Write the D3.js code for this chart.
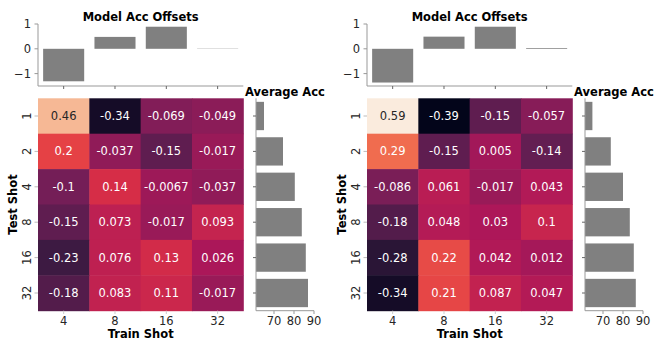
<!DOCTYPE html>
<html>
<head>
<meta charset="utf-8">
<script src="https://cdn.jsdelivr.net/npm/d3@7"></script>
<style>
  body { margin: 0; background: #fff; }
  svg { display: block; font-family: "DejaVu Sans", sans-serif; }
</style>
</head>
<body>
<svg id="chart" width="664" height="352"></svg>
<script>
// axis categories
const trainShots = ["4", "8", "16", "32"];
const testShots = ["1", "2", "4", "8", "16", "32"];

// left panel
const heatLeft = [
    [0.46, -0.34, -0.069, -0.049],
    [0.2, -0.037, -0.15, -0.017],
    [-0.1, 0.14, -0.0067, -0.037],
    [-0.15, 0.073, -0.017, 0.093],
    [-0.23, 0.076, 0.13, 0.026],
    [-0.18, 0.083, 0.11, -0.017]
];
const offsetsLeft = [-1.31, 0.48, 0.89, 0.01];
const avgLeft = [65, 74.5, 80.4, 83.9, 85.9, 87.0];

// right panel
const heatRight = [
    [0.59, -0.39, -0.15, -0.057],
    [0.29, -0.15, 0.005, -0.14],
    [-0.086, 0.061, -0.017, 0.043],
    [-0.18, 0.048, 0.03, 0.1],
    [-0.28, 0.22, 0.042, 0.012],
    [-0.34, 0.21, 0.087, 0.047]
];
const offsetsRight = [-1.36, 0.49, 0.89, 0.03];
const avgRight = [64.7, 73.9, 80, 83.4, 85.4, 86.4];

const offsetTicks = [1, 0, -1];
const avgTicks = [70, 80, 90];

// seaborn "rocket" approximated by its palette anchors
const rocketStops = ["#03051a", "#35193e", "#701f57", "#ad1759", "#e13342", "#f37651", "#f6b48f", "#faebdd"];
const rocket = d3.scaleLinear()
    .domain(d3.range(rocketStops.length).map(i => i / (rocketStops.length - 1)))
    .range(rocketStops)
    .interpolate(d3.interpolateRgb);

const allVals = heatLeft.flat().concat(heatRight.flat());
const colorNorm = d3.scaleLinear().domain(d3.extent(allVals)).range([0, 1]).clamp(true);
const cellColor = v => rocket(colorNorm(v));

function luminance(c) {
    const rgb = d3.rgb(c);
    const lin = x => {
        x /= 255;
        return x <= 0.03928 ? x / 12.92 : Math.pow((x + 0.055) / 1.055, 2.4);
    };
    return 0.2126 * lin(rgb.r) + 0.7152 * lin(rgb.g) + 0.0722 * lin(rgb.b);
}

const svg = d3.select("#chart");
const FS = "11.5px";
const spine = "#999";
const barGrey = "#808080";

function drawPanel(dx, heat, offsets, avg) {
    const g = svg.append("g").attr("transform", `translate(${dx},0)`);

    const x = d3.scaleBand().domain(trainShots).range([38, 243.3]);
    const y = d3.scaleBand().domain(testShots).range([98.3, 310.7]);

    // heatmap cells
    const cells = [];
    heat.forEach((row, i) => row.forEach((v, j) => cells.push({ r: testShots[i], c: trainShots[j], v })));

    g.append("g").selectAll("rect")
        .data(cells)
        .enter().append("rect")
        .attr("x", d => x(d.c))
        .attr("y", d => y(d.r))
        .attr("width", x.bandwidth() + 0.5)
        .attr("height", y.bandwidth() + 0.5)
        .attr("fill", d => cellColor(d.v));

    g.append("g").selectAll("text")
        .data(cells)
        .enter().append("text")
        .attr("x", d => x(d.c) + x.bandwidth() / 2)
        .attr("y", d => y(d.r) + y.bandwidth() / 2)
        .attr("text-anchor", "middle")
        .attr("dominant-baseline", "central")
        .style("font-size", FS)
        .attr("fill", d => luminance(cellColor(d.v)) > 0.408 ? "#262626" : "#fff")
        .text(d => String(d.v));

    // heatmap tick marks and labels
    g.append("g").selectAll("line")
        .data(testShots)
        .enter().append("line")
        .attr("x1", 34.5).attr("x2", 38)
        .attr("y1", d => y(d) + y.bandwidth() / 2)
        .attr("y2", d => y(d) + y.bandwidth() / 2)
        .attr("stroke", "#bbb");

    g.append("g").selectAll("text")
        .data(testShots)
        .enter().append("text")
        .attr("transform", d => `translate(30,${y(d) + y.bandwidth() / 2}) rotate(-90)`)
        .attr("text-anchor", "middle")
        .attr("dy", "0.1em")
        .style("font-size", FS)
        .attr("fill", "#262626")
        .text(d => d);

    g.append("g").selectAll("line")
        .data(trainShots)
        .enter().append("line")
        .attr("x1", d => x(d) + x.bandwidth() / 2)
        .attr("x2", d => x(d) + x.bandwidth() / 2)
        .attr("y1", 310.7).attr("y2", 314)
        .attr("stroke", "#ccc");

    g.append("g").selectAll("text")
        .data(trainShots)
        .enter().append("text")
        .attr("x", d => x(d) + x.bandwidth() / 2)
        .attr("y", 325)
        .attr("text-anchor", "middle")
        .style("font-size", FS)
        .attr("fill", "#262626")
        .text(d => d);

    g.append("text")
        .attr("x", (38 + 243.3) / 2).attr("y", 337.5)
        .attr("text-anchor", "middle")
        .style("font-size", FS).style("font-weight", "bold")
        .text("Train Shot");

    g.append("text")
        .attr("transform", `translate(13,${(98.3 + 310.7) / 2}) rotate(-90)`)
        .attr("text-anchor", "middle")
        .attr("dominant-baseline", "central")
        .style("font-size", FS).style("font-weight", "bold")
        .text("Test Shot");

    // top: model acc offsets
    const xb = d3.scaleBand().domain(trainShots).range([38, 243.3]).paddingInner(0.2).paddingOuter(0.1);
    const yo = d3.scaleLinear().domain([-1.5, 1.0]).range([86, 24]);

    g.append("g").selectAll("rect")
        .data(offsets)
        .enter().append("rect")
        .attr("x", (d, i) => xb(trainShots[i]))
        .attr("width", xb.bandwidth())
        .attr("y", d => yo(Math.max(0, d)))
        .attr("height", d => Math.abs(yo(d) - yo(0)))
        .attr("fill", barGrey);

    g.append("line").attr("x1", 38).attr("x2", 38).attr("y1", 24).attr("y2", 86).attr("stroke", spine);
    g.append("line").attr("x1", 38).attr("x2", 243.3).attr("y1", 86).attr("y2", 86).attr("stroke", spine);

    g.append("g").selectAll("line")
        .data(offsetTicks)
        .enter().append("line")
        .attr("x1", 34.5).attr("x2", 38)
        .attr("y1", d => yo(d)).attr("y2", d => yo(d))
        .attr("stroke", spine);

    g.append("g").selectAll("text")
        .data(offsetTicks)
        .enter().append("text")
        .attr("x", 31).attr("y", d => yo(d))
        .attr("text-anchor", "end")
        .attr("dominant-baseline", "central")
        .style("font-size", FS)
        .attr("fill", "#262626")
        .text(d => d < 0 ? "\u2212" + Math.abs(d) : String(d));

    g.append("g").selectAll("line")
        .data(trainShots)
        .enter().append("line")
        .attr("x1", d => x(d) + x.bandwidth() / 2)
        .attr("x2", d => x(d) + x.bandwidth() / 2)
        .attr("y1", 86).attr("y2", 89)
        .attr("stroke", "#666");

    g.append("text")
        .attr("x", (38 + 243.3) / 2).attr("y", 20.5)
        .attr("text-anchor", "middle")
        .style("font-size", FS).style("font-weight", "bold")
        .text("Model Acc Offsets");

    // right: average acc
    const ya = d3.scaleBand().domain(testShots).range([98.3, 310.7]).paddingInner(0.2).paddingOuter(0.1);
    const xa = d3.scaleLinear().domain([61, 90]).range([256, 314]);

    g.append("g").selectAll("rect")
        .data(avg)
        .enter().append("rect")
        .attr("x", xa(61))
        .attr("y", (d, i) => ya(testShots[i]))
        .attr("width", d => xa(d) - xa(61))
        .attr("height", ya.bandwidth())
        .attr("fill", barGrey);

    g.append("line").attr("x1", 256).attr("x2", 256).attr("y1", 98.3).attr("y2", 310.7).attr("stroke", spine);
    g.append("line").attr("x1", 256).attr("x2", 314).attr("y1", 310.7).attr("y2", 310.7).attr("stroke", spine);

    g.append("g").selectAll("line")
        .data(testShots)
        .enter().append("line")
        .attr("x1", 253).attr("x2", 256)
        .attr("y1", d => y(d) + y.bandwidth() / 2)
        .attr("y2", d => y(d) + y.bandwidth() / 2)
        .attr("stroke", "#666");

    g.append("g").selectAll("line")
        .data(avgTicks)
        .enter().append("line")
        .attr("x1", d => xa(d)).attr("x2", d => xa(d))
        .attr("y1", 310.7).attr("y2", 314)
        .attr("stroke", spine);

    g.append("g").selectAll("text")
        .data(avgTicks)
        .enter().append("text")
        .attr("x", d => xa(d)).attr("y", 325)
        .attr("text-anchor", "middle")
        .style("font-size", FS)
        .attr("fill", "#262626")
        .text(d => d);

    g.append("text")
        .attr("x", (256 + 314) / 2).attr("y", 96)
        .attr("text-anchor", "middle")
        .style("font-size", FS).style("font-weight", "bold")
        .text("Average Acc");
}

drawPanel(0, heatLeft, offsetsLeft, avgLeft);
drawPanel(329, heatRight, offsetsRight, avgRight);
</script>
</body>
</html>
